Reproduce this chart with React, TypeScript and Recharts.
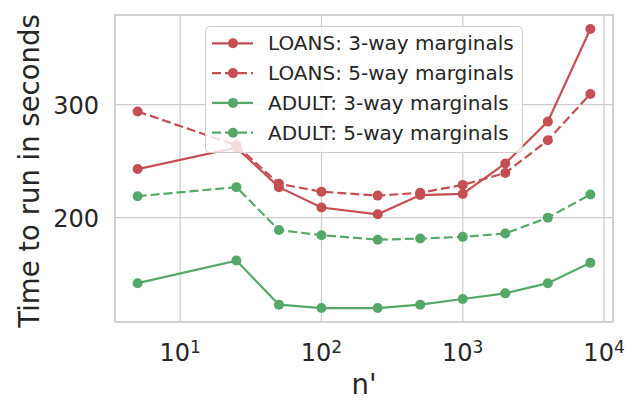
import React from "react";
import {
  LineChart,
  Line,
  XAxis,
  YAxis,
  CartesianGrid,
  Legend,
  ReferenceArea,
} from "recharts";

// ---- data ----
const nValues = [5, 25, 50, 100, 250, 500, 1000, 2000, 4000, 8000];
const loans3 = [243, 262, 227, 209, 203, 220, 221, 248, 285, 367];
const loans5 = [294, 264, 230, 223, 219.5, 222, 229, 239.5, 268.5, 309.5];
const adult3 = [142, 162, 123, 120, 120, 123, 128, 133, 142, 160];
const adult5 = [219, 227, 189, 184.5, 180.5, 181.5, 183, 186, 200, 220.5];
const xTicks = [10, 100, 1000, 10000];
const yTicks = [200, 300];
const seriesNames = [
  "LOANS: 3-way marginals",
  "LOANS: 5-way marginals",
  "ADULT: 3-way marginals",
  "ADULT: 5-way marginals",
];

const RED = "#C44E52";
const GREEN = "#55A868";
const GRID = "#cccccc";
const TEXT = "#262626";
const FONT = "'DejaVu Sans', sans-serif";

const series = [
  { key: "loans3", name: seriesNames[0], color: RED, dash: undefined as string | undefined },
  { key: "loans5", name: seriesNames[1], color: RED, dash: "9 4" },
  { key: "adult3", name: seriesNames[2], color: GREEN, dash: undefined },
  { key: "adult5", name: seriesNames[3], color: GREEN, dash: "9 4" },
];

const data = nValues.map((n, i) => ({
  n,
  loans3: loans3[i],
  loans5: loans5[i],
  adult3: adult3[i],
  adult5: adult5[i],
}));

// matplotlib-like 5% margins
const allY = [...loans3, ...loans5, ...adult3, ...adult5];
const yMinD = Math.min(...allY);
const yMaxD = Math.max(...allY);
const yPad = 0.05 * (yMaxD - yMinD);
const yDomain: [number, number] = [yMinD - yPad, yMaxD + yPad];
const lxMin = Math.log10(Math.min(...nValues));
const lxMax = Math.log10(Math.max(...nValues));
const lxPad = 0.05 * (lxMax - lxMin);
const xDomain: [number, number] = [Math.pow(10, lxMin - lxPad), Math.pow(10, lxMax + lxPad)];

const XTick = (props: any) => {
  const { x, y, payload } = props;
  const exp = Math.round(Math.log10(payload.value));
  return (
    <text x={x} y={y + 39} textAnchor="middle" fill={TEXT} fontFamily={FONT} fontSize={24}>
      <tspan>10</tspan>
      <tspan dy={-8.5} fontSize={17}>
        {exp}
      </tspan>
    </text>
  );
};

const YTick = (props: any) => {
  const { x, y, payload } = props;
  return (
    <text x={x} y={y + 9.5} textAnchor="end" fill={TEXT} fontFamily={FONT} fontSize={24}>
      {payload.value}
    </text>
  );
};

const YLabel = (props: any) => {
  const vb = props.viewBox || { x: 0, y: 15, width: 115, height: 307 };
  const cx = vb.x + 39;
  const cy = vb.y + vb.height / 2 + 2.5;
  return (
    <text
      x={cx}
      y={cy}
      transform={`rotate(-90, ${cx}, ${cy})`}
      textAnchor="middle"
      fill={TEXT}
      fontFamily={FONT}
      fontSize={27.5}
    >
      Time to run in seconds
    </text>
  );
};

const XLabel = (props: any) => {
  const vb = props.viewBox || { x: 115, y: 322, width: 498, height: 79 };
  return (
    <text
      x={vb.x + vb.width / 2}
      y={vb.y + 72}
      textAnchor="middle"
      fill={TEXT}
      fontFamily={FONT}
      fontSize={27.5}
    >
      n'
    </text>
  );
};

const LegendBox = () => {
  const W = 318;
  const H = 127;
  return (
    <svg width={W} height={H} style={{ display: "block" }}>
      <rect
        x={0.5}
        y={0.5}
        width={W - 1}
        height={H - 1}
        rx={4}
        fill="#ffffff"
        fillOpacity={0.8}
        stroke={GRID}
        strokeWidth={1}
      />
      {series.map((s, i) => {
        const cy = 17.3 + i * 29.8;
        return (
          <g key={s.key}>
            <line
              x1={7}
              x2={48}
              y1={cy}
              y2={cy}
              stroke={s.color}
              strokeWidth={2.2}
              strokeDasharray={s.dash}
            />
            <circle cx={28} cy={cy} r={5} fill={s.color} />
            <text x={63} y={cy + 7} fill={TEXT} fontFamily={FONT} fontSize={20}>
              {s.name}
            </text>
          </g>
        );
      })}
    </svg>
  );
};

export default function App() {
  return (
    <div style={{ position: "absolute", left: 0, top: 0, background: "#fff" }}>
      <LineChart
        width={635}
        height={401}
        data={data}
        margin={{ top: 15, right: 22, left: 0, bottom: 0 }}
      >
        <CartesianGrid stroke={GRID} strokeWidth={1.2} />
        <XAxis
          dataKey="n"
          type="number"
          scale="log"
          domain={xDomain}
          allowDataOverflow
          ticks={xTicks}
          height={79}
          axisLine={false}
          tickLine={false}
          tickSize={0}
          tickMargin={0}
          tick={(p: any) => <XTick {...p} />}
          label={<XLabel />}
        />
        <YAxis
          type="number"
          domain={yDomain}
          allowDataOverflow
          ticks={yTicks}
          width={115}
          axisLine={false}
          tickLine={false}
          tickSize={0}
          tickMargin={16}
          tick={(p: any) => <YTick {...p} />}
          label={<YLabel />}
        />
        <ReferenceArea
          x1={xDomain[0]}
          x2={xDomain[1]}
          y1={yDomain[0]}
          y2={yDomain[1]}
          fill="none"
          stroke={GRID}
          strokeWidth={1.5}
          ifOverflow="visible"
        />
        {series.map((s) => (
          <Line
            key={s.key}
            dataKey={s.key}
            name={s.name}
            stroke={s.color}
            strokeWidth={2.2}
            strokeDasharray={s.dash}
            dot={{ r: 5, fill: s.color, stroke: s.color, strokeWidth: 0 }}
            activeDot={false}
            isAnimationActive={false}
          />
        ))}
        <Legend
          layout="horizontal"
          verticalAlign="middle"
          align="center"
          content={() => <LegendBox />}
          wrapperStyle={{ position: "absolute", left: 205, top: 26, width: 318, height: 127 }}
        />
      </LineChart>
    </div>
  );
}
